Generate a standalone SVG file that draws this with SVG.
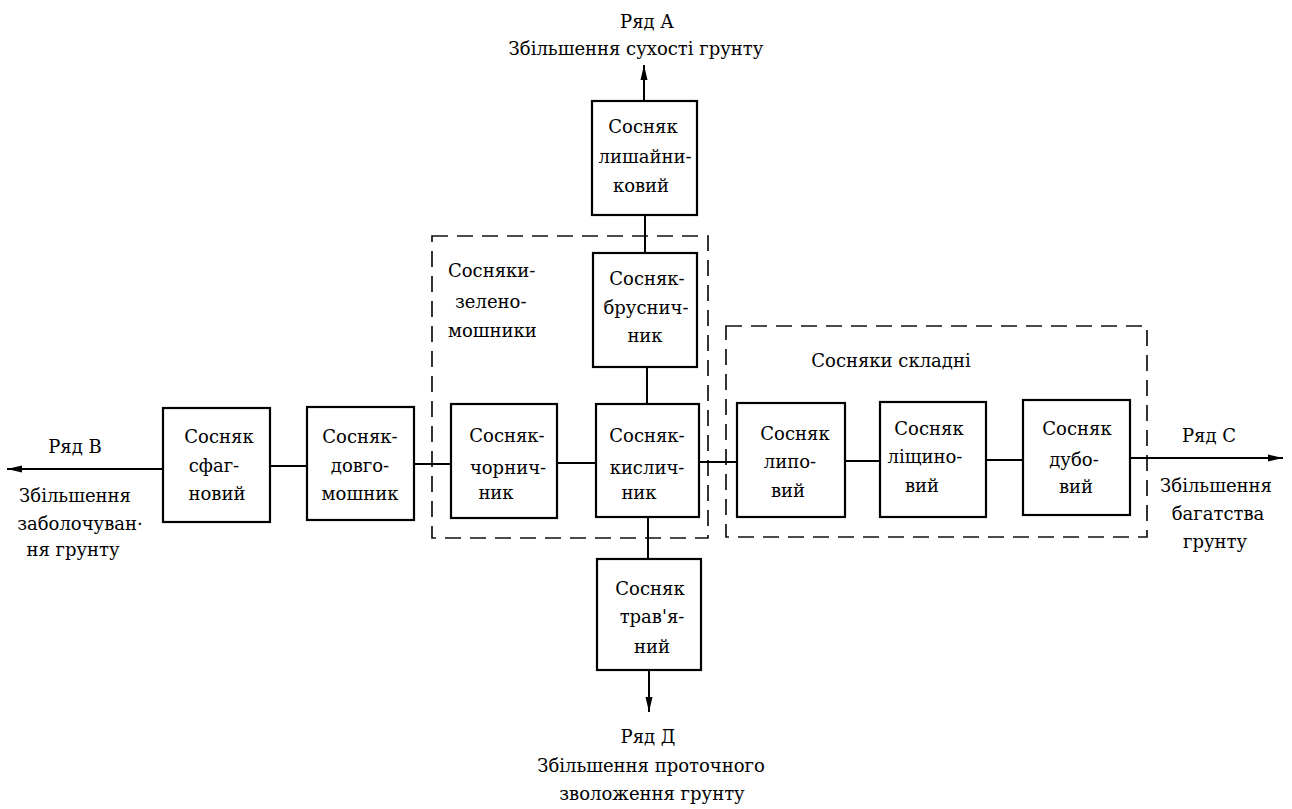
<svg xmlns="http://www.w3.org/2000/svg" width="1292" height="809" viewBox="0 0 1292 809">
<defs>
<marker id="arr" markerUnits="userSpaceOnUse" markerWidth="16" markerHeight="8" refX="15" refY="4" orient="auto">
<path d="M0,0.5 L15,4 L0,7.5 z" fill="#000"/>
</marker>
<style>
.box{fill:#fff;stroke:#000;stroke-width:2.2}
.grp{fill:none;stroke:#111;stroke-width:1.7;stroke-dasharray:16 9}
.ln{stroke:#000;stroke-width:2;fill:none}
text{font-family:"DejaVu Serif","Liberation Serif",serif;font-size:18px;fill:#000}
.c{text-anchor:middle}
</style>
</defs>
<rect width="1292" height="809" fill="#fff"/>

<g id="groups">
<rect class="grp" x="432" y="236" width="276" height="302"/>
<rect class="grp" x="726" y="326" width="421" height="211"/>
<text x="448" y="277">Сосняки-</text>
<text x="455" y="308">зелено-</text>
<text x="448" y="337">мошники</text>
<text x="891" y="367" class="c">Сосняки складні</text>
</g>

<g id="connectors">
<line class="ln" x1="644" y1="101" x2="644" y2="65" marker-end="url(#arr)"/>
<line class="ln" x1="645" y1="215" x2="645" y2="253"/>
<line class="ln" x1="647" y1="367" x2="647" y2="404"/>
<line class="ln" x1="648" y1="517" x2="648" y2="559"/>
<line class="ln" x1="649" y1="670" x2="649" y2="712" marker-end="url(#arr)"/>
<line class="ln" x1="163" y1="469" x2="7" y2="469" marker-end="url(#arr)"/>
<line class="ln" x1="270" y1="466" x2="307" y2="466"/>
<line class="ln" x1="414" y1="464" x2="451" y2="464"/>
<line class="ln" x1="557" y1="463" x2="596" y2="463"/>
<line class="ln" x1="699" y1="462" x2="737" y2="462"/>
<line class="ln" x1="845" y1="461" x2="880" y2="461"/>
<line class="ln" x1="986" y1="460" x2="1023" y2="460"/>
<line class="ln" x1="1130" y1="458" x2="1283" y2="458" marker-end="url(#arr)"/>
</g>

<g id="n-lyshainykovyi">
<rect class="box" x="592" y="101" width="105" height="114"/>
<text class="c" x="643" y="133">Сосняк</text>
<text class="c" x="645" y="163">лишайни-</text>
<text class="c" x="641" y="192">ковий</text>
</g>
<g id="n-brusnychnyk">
<rect class="box" x="593" y="253" width="104" height="114"/>
<text class="c" x="647" y="285">Сосняк-</text>
<text class="c" x="646" y="314">бруснич-</text>
<text class="c" x="645" y="342">ник</text>
</g>
<g id="n-kyslychnyk">
<rect class="box" x="596" y="404" width="103" height="113"/>
<text class="c" x="647" y="442">Сосняк-</text>
<text class="c" x="647" y="474">кислич-</text>
<text class="c" x="639" y="499">ник</text>
</g>
<g id="n-chornychnyk">
<rect class="box" x="451" y="404" width="106" height="114"/>
<text class="c" x="507" y="442">Сосняк-</text>
<text class="c" x="508" y="474">чорнич-</text>
<text class="c" x="496" y="499">ник</text>
</g>
<g id="n-dovhomoshnyk">
<rect class="box" x="307" y="407" width="107" height="113"/>
<text class="c" x="360" y="443">Сосняк-</text>
<text class="c" x="360" y="472">довго-</text>
<text class="c" x="360" y="500">мошник</text>
</g>
<g id="n-sfagnovyi">
<rect class="box" x="163" y="408" width="107" height="114"/>
<text class="c" x="219" y="443">Сосняк</text>
<text class="c" x="214" y="472">сфаг-</text>
<text class="c" x="217" y="500">новий</text>
</g>
<g id="n-lypovyi">
<rect class="box" x="737" y="403" width="108" height="114"/>
<text class="c" x="795" y="440">Сосняк</text>
<text class="c" x="790" y="468">липо-</text>
<text class="c" x="788" y="497">вий</text>
</g>
<g id="n-lishchynovyi">
<rect class="box" x="880" y="402" width="106" height="115"/>
<text class="c" x="929" y="435">Сосняк</text>
<text class="c" x="925" y="463">ліщино-</text>
<text class="c" x="922" y="492">вий</text>
</g>
<g id="n-dubovyi">
<rect class="box" x="1023" y="400" width="107" height="115"/>
<text class="c" x="1077" y="435">Сосняк</text>
<text class="c" x="1074" y="466">дубо-</text>
<text class="c" x="1076" y="493">вий</text>
</g>
<g id="n-travianyi">
<rect class="box" x="597" y="559" width="104" height="111"/>
<text class="c" x="650" y="595">Сосняк</text>
<text class="c" x="652" y="623">трав'я-</text>
<text class="c" x="652" y="653">ний</text>
</g>

<g id="labels">
<text class="c" x="647" y="28">Ряд А</text>
<text class="c" x="636" y="55">Збільшення сухості грунту</text>
<text class="c" x="75" y="453">Ряд В</text>
<text class="c" x="75" y="502">Збільшення</text>
<text class="c" x="80" y="530">заболочуван·</text>
<text class="c" x="73" y="556">ня грунту</text>
<text class="c" x="1209" y="442">Ряд С</text>
<text class="c" x="1216" y="492">Збільшення</text>
<text class="c" x="1218" y="520">багатства</text>
<text class="c" x="1215" y="548">грунту</text>
<text class="c" x="648" y="743">Ряд Д</text>
<text class="c" x="651" y="772">Збільшення проточного</text>
<text class="c" x="652" y="800">зволоження грунту</text>
</g>
</svg>
